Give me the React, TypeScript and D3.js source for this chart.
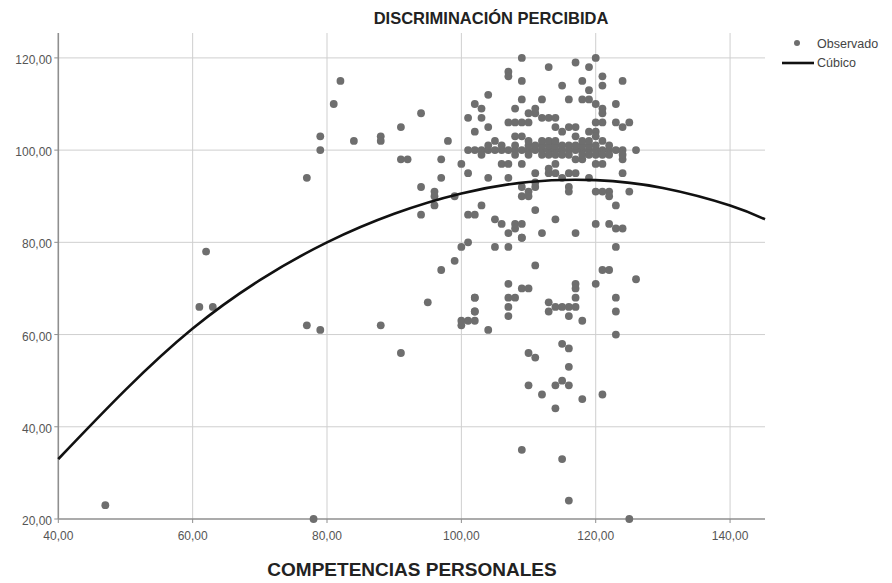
import * as d3 from 'd3';

// observed points: COMPETENCIAS PERSONALES (x) vs DISCRIMINACIÓN PERCIBIDA (y)
const obsX = [
  47, 61, 62, 63, 77, 77, 78, 79, 79, 79, 81, 82, 84, 88, 88, 88, 91, 91, 92, 91,
  94, 94, 94, 95, 96, 96, 96, 97, 97, 97, 98, 99, 99, 100,
  100, 101, 100, 100, 101, 102, 101, 102, 103, 101, 101, 102, 103, 103, 102, 104, 104, 105, 104, 104,
  102, 102,
  105, 106, 105, 107, 107, 108, 109, 108, 109, 107, 106, 107, 109, 107, 107, 107, 108, 109, 110,
  108, 108, 109, 109, 109, 109, 110, 111, 111, 112, 113, 114, 112, 113, 114, 115, 116, 117,
  115, 116, 117, 117, 118, 118, 119, 119, 119, 120, 120, 121, 121, 121, 121, 120, 121, 120, 119,
  123, 123, 124, 125, 124, 120, 126, 124, 124, 125, 123, 122, 122, 121, 120, 122, 123, 124, 120,
  123, 121, 122, 126, 120, 123, 123, 123,
  109, 110, 109, 110, 111, 111, 111, 111, 113, 114, 115, 116, 117, 119, 113, 114, 117, 118, 120, 121,
  116, 116, 114, 112, 117, 109, 111, 107, 109, 110, 117, 117, 117, 107, 108, 107, 107, 102, 102,
  113, 114, 115, 116, 117, 113, 116, 118, 115, 116, 110, 111, 116, 110, 114, 115, 116, 112, 118, 121,
  114, 109, 115, 116, 125,
];
const obsY = [
  23, 66, 78, 66, 94, 62, 20, 103, 100, 61, 110, 115, 102, 103, 102, 62, 105, 98, 98, 56,
  108, 92, 86, 67, 91, 90, 88, 98, 94, 74, 102, 90, 76, 97,
  79, 80, 62, 63, 63, 63, 86, 86, 88, 95, 107, 110, 109, 107, 104, 112, 105, 102, 94, 61,
  68, 65,
  85, 84, 79, 79, 82, 84, 84, 83, 81, 94, 97, 97, 97, 117, 116, 106, 106, 106, 106,
  109, 103, 103, 120, 115, 111, 108, 108, 109, 107, 107, 107, 111, 118, 105, 104, 105, 105,
  114, 111, 103, 119, 115, 111, 118, 113, 111, 120, 110, 116, 114, 109, 108, 106, 106, 104, 104,
  110, 106, 105, 106, 115, 103, 100, 98, 95, 91, 88, 91, 90, 91, 91, 84, 83, 83, 84,
  79, 74, 74, 72, 71, 68, 65, 60,
  92, 91, 90, 90, 93, 92, 87, 95, 95, 95, 94, 95, 95, 94, 96, 97, 98, 98, 97, 97,
  92, 91, 85, 82, 82, 81, 75, 71, 70, 70, 71, 70, 68, 68, 68, 66, 64, 68, 65,
  67, 66, 66, 66, 66, 65, 64, 63, 58, 57, 56, 55, 53, 49, 49, 50, 49, 47, 46, 47,
  44, 35, 33, 24, 20,
];

// the dense band of answers around 99-102
const bandX100 = d3.range(101, 125);
const bandX101 = [104, 106, 108, 110, 111, 112, 113, 114, 115, 116, 117, 118, 119, 120, 122];
const bandX99 = [103, 108, 110, 112, 113, 114, 115, 116, 118, 119, 120, 121, 122, 124];
const bandX102 = [110, 112, 113, 114, 118, 119, 121];

// cubic fit
const fitX = [40, 50, 60, 70, 80, 90, 100, 110, 120, 130, 140, 145.2];
const fitY = [33, 48, 61.3, 71.8, 80, 86.2, 90.6, 93.1, 93.5, 91.8, 88, 85];

const xTicks = [40, 60, 80, 100, 120, 140];
const yTicks = [20, 40, 60, 80, 100, 120];

const W = 892;
const H = 583;
const m = { left: 58.3, right: 765, top: 33, bottom: 519 };
const font = 'Arial, "Liberation Sans", sans-serif';

export default function App() {
  const x = d3.scaleLinear().domain([40, 145.2]).range([m.left, m.right]);
  const y = d3.scaleLinear().domain([20, 125.4]).range([m.bottom, m.top]);
  const fmt = (v: number) => d3.format('.2f')(v).replace('.', ',');

  const pts: [number, number][] = obsX.map((v, i) => [v, obsY[i]]);
  bandX100.forEach((v) => pts.push([v, 100]));
  bandX101.forEach((v) => pts.push([v, 101]));
  bandX99.forEach((v) => pts.push([v, 99]));
  bandX102.forEach((v) => pts.push([v, 102]));

  const line = d3
    .line<number>()
    .x((d) => x(d))
    .y((_, i) => y(fitY[i]))
    .curve(d3.curveNatural);

  return (
    <svg
      width={W}
      height={H}
      style={{ position: 'absolute', left: 0, top: 0, display: 'block', background: '#fff' }}
      fontFamily={font}
    >
      {/* grid */}
      {xTicks.slice(1).map((t) => (
        <line key={'gx' + t} x1={x(t)} x2={x(t)} y1={m.top} y2={m.bottom} stroke="#cfcfcf" strokeWidth={1} />
      ))}
      {yTicks.slice(1).map((t) => (
        <line key={'gy' + t} x1={m.left} x2={m.right} y1={y(t)} y2={y(t)} stroke="#cfcfcf" strokeWidth={1} />
      ))}

      {/* axes */}
      <line x1={m.left} x2={m.left} y1={m.top} y2={m.bottom} stroke="#8f8f8f" strokeWidth={1.6} />
      <line x1={m.left} x2={m.right} y1={m.bottom} y2={m.bottom} stroke="#8f8f8f" strokeWidth={1.6} />
      {yTicks.map((t) => (
        <g key={'ty' + t}>
          <line x1={m.left - 4} x2={m.left} y1={y(t)} y2={y(t)} stroke="#8f8f8f" />
          <text x={52} y={y(t) + 6} textAnchor="end" fontSize={12} fill="#555">
            {fmt(t)}
          </text>
        </g>
      ))}
      {xTicks.map((t) => (
        <g key={'tx' + t}>
          <line x1={x(t)} x2={x(t)} y1={m.bottom} y2={m.bottom + 4} stroke="#8f8f8f" />
          <text x={x(t)} y={540} textAnchor="middle" fontSize={12} fill="#555">
            {fmt(t)}
          </text>
        </g>
      ))}

      {/* observed */}
      {pts.map(([a, b], i) => (
        <circle key={'p' + i} cx={x(a)} cy={y(b)} r={3.9} fill="#6e6e6e" />
      ))}

      {/* cubic */}
      <path d={line(fitX) || ''} fill="none" stroke="#111" strokeWidth={2.6} />

      {/* titles */}
      <text x={491} y={24} textAnchor="middle" fontSize={16.5} fontWeight="bold" fill="#222">
        DISCRIMINACIÓN PERCIBIDA
      </text>
      <text x={412} y={576} textAnchor="middle" fontSize={19} fontWeight="bold" fill="#222">
        COMPETENCIAS PERSONALES
      </text>

      {/* legend */}
      <circle cx={797} cy={43} r={3} fill="#6e6e6e" />
      <text x={817} y={48} fontSize={12.5} fill="#444">
        Observado
      </text>
      <line x1={782} x2={814} y1={63} y2={63} stroke="#111" strokeWidth={2.6} />
      <text x={817} y={67} fontSize={12.5} fill="#444">
        Cúbico
      </text>
    </svg>
  );
}
